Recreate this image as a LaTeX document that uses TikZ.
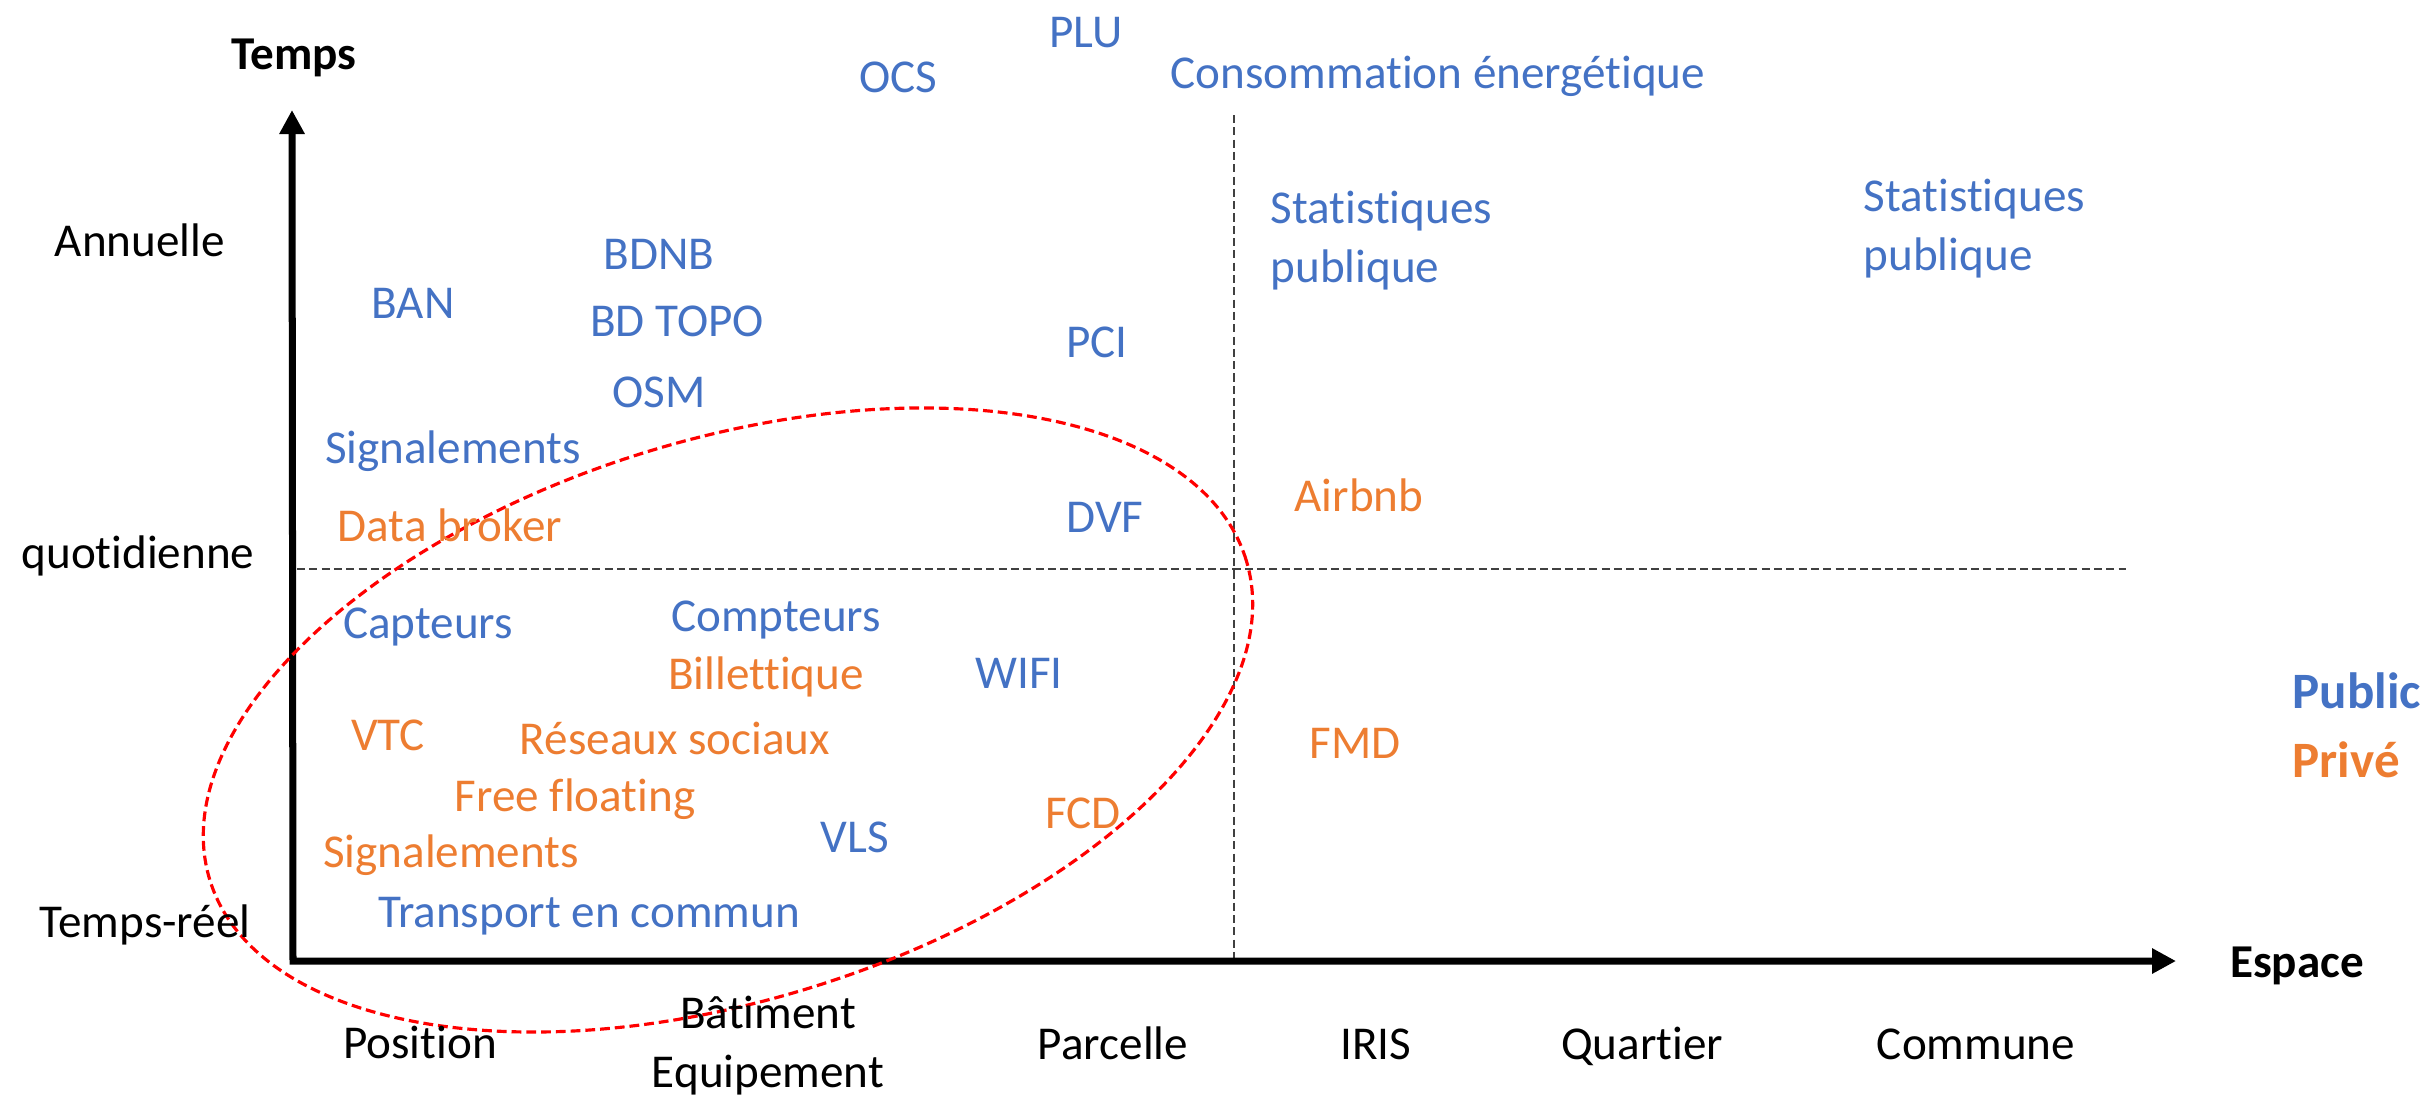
\documentclass[tikz,border=0pt]{standalone}
\usepackage{fontspec}
\setmainfont{Carlito}[Ligatures=NoCommon]
\usetikzlibrary{arrows.meta}
\definecolor{pub}{HTML}{4472C4}
\definecolor{priv}{HTML}{ED7D31}
\definecolor{guidegray}{HTML}{404040}
\begin{document}
\begin{tikzpicture}[x=0.01cm,y=-0.01cm,
  lbl/.style={anchor=base, inner sep=0pt, font=\fontsize{13.4pt}{16.6pt}\selectfont},
  pubtxt/.style={lbl, text=pub},
  privtxt/.style={lbl, text=priv},
  axistxt/.style={lbl, text=black},
  axistitle/.style={anchor=base, inner sep=0pt, font=\fontsize{13.4pt}{16pt}\selectfont\bfseries},
  legendtxt/.style={anchor=base west, inner sep=0pt, font=\fontsize{14.5pt}{17pt}\selectfont\bfseries},
  axisline/.style={line width=0.07cm, line join=miter, {Triangle[length=0.24cm,width=0.24cm]}-{Triangle[length=0.24cm,width=0.24cm]}},
  guide/.style={guidegray, line width=0.6pt, dash pattern=on 2.3pt off 1.2pt},
  zone/.style={red, line width=0.9pt, dash pattern=on 2.8pt off 1.4pt}
]
\useasboundingbox (0,0) rectangle (2430,1096);

% guides
\coordinate (hgs) at (297,569);
\coordinate (hge) at (2126,569);
\coordinate (vgs) at (1234,115);
\coordinate (vge) at (1234,958);
\draw[guide] (hgs) -- (hge);
\draw[guide] (vgs) -- (vge);

% axes
\coordinate (ytop) at (292,110);
\coordinate (orig) at (293,961);
\coordinate (xend) at (2176,961);
\draw[axisline] (ytop) -- (orig) -- (xend);

% ellipse zone
\coordinate (ellc) at (728,720);
\draw[zone, rotate around={17.2:(ellc)}] (ellc) ellipse [x radius=5.42cm, y radius=2.80cm];

% axis titles
\node[axistitle] (temps) at (294,69) {Temps};
\node[axistitle] (espace) at (2297,977) {Espace};

% time labels
\node[axistxt] (annuelle) at (140,256) {Annuelle};
\node[axistxt] (quotid) at (138,568) {quotidienne};
\node[axistxt] (treel) at (145,937) {Temps-réel};

% space labels
\node[axistxt] (position) at (420,1058) {Position};
\node[axistxt, align=center] (batiment) at (768,1087) {Bâtiment\\Equipement};
\node[axistxt] (parcelle) at (1113,1059) {Parcelle};
\node[axistxt] (iris) at (1376,1059) {IRIS};
\node[axistxt] (quartier) at (1642,1059) {Quartier};
\node[axistxt] (commune) at (1976,1059) {Commune};

% public data
\node[pubtxt] (plu) at (1086,47) {PLU};
\node[pubtxt] (ocs) at (898,92) {OCS};
\node[pubtxt] (conso) at (1438,88) {Consommation énergétique};
\node[pubtxt] (bdnb) at (659,269) {BDNB};
\node[pubtxt] (ban) at (413,318) {BAN};
\node[pubtxt] (bdtopo) at (677,336) {BD TOPO};
\node[pubtxt] (osm) at (659,407) {OSM};
\node[pubtxt] (signpub) at (453,463) {Signalements};
\node[pubtxt] (pci) at (1097,357) {PCI};
\node[pubtxt] (dvf) at (1105,532) {DVF};
\node[pubtxt, anchor=base west, align=left] (stat1) at (1270,282) {Statistiques\\publique};
\node[pubtxt, anchor=base west, align=left] (stat2) at (1863,270) {Statistiques\\publique};
\node[pubtxt] (capteurs) at (428,638) {Capteurs};
\node[pubtxt] (compteurs) at (776,631) {Compteurs};
\node[pubtxt] (wifi) at (1019,688) {WIFI};
\node[pubtxt] (vls) at (855,852) {VLS};
\node[pubtxt] (tc) at (589,927) {Transport en commun};

% private data
\node[privtxt] (databroker) at (450,541) {Data broker};
\node[privtxt] (airbnb) at (1359,511) {Airbnb};
\node[privtxt] (billet) at (766,689) {Billettique};
\node[privtxt] (vtc) at (388,750) {VTC};
\node[privtxt] (reseaux) at (675,754) {Réseaux sociaux};
\node[privtxt] (freefl) at (575,811) {Free floating};
\node[privtxt] (signpriv) at (451,867) {Signalements};
\node[privtxt] (fcd) at (1083,828) {FCD};
\node[privtxt] (fmd) at (1355,758) {FMD};

% legend
\node[legendtxt, text=pub] (legpub) at (2292,708) {Public};
\node[legendtxt, text=priv] (legpriv) at (2292,777) {Privé};
\end{tikzpicture}
\end{document}
